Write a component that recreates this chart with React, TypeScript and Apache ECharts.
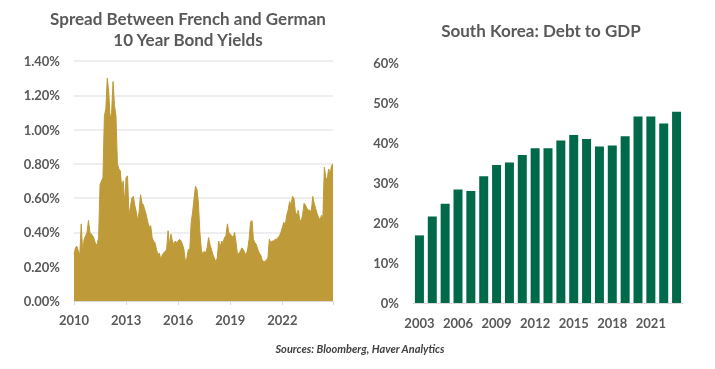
import React, { useEffect, useRef } from "react";
import * as echarts from "echarts";

// Spread between French and German 10Y yields (%), monthly, Jan..Dec
const spread2010 = [0.27, 0.31, 0.32, 0.29, 0.27, 0.45, 0.28, 0.36, 0.38, 0.40, 0.47, 0.40];
const spread2011 = [0.39, 0.38, 0.36, 0.33, 0.33, 0.37, 0.68, 0.70, 0.72, 1.08, 1.12, 1.30];
const spread2012 = [1.22, 1.06, 1.10, 1.28, 1.14, 1.08, 0.80, 0.77, 0.76, 0.66, 0.70, 0.57];
const spread2013 = [0.72, 0.73, 0.50, 0.55, 0.60, 0.61, 0.56, 0.52, 0.47, 0.52, 0.62, 0.57];
const spread2014 = [0.56, 0.53, 0.50, 0.46, 0.43, 0.44, 0.37, 0.35, 0.34, 0.30, 0.27, 0.28];
const spread2015 = [0.24, 0.27, 0.28, 0.29, 0.30, 0.41, 0.33, 0.39, 0.35, 0.33, 0.35, 0.34];
const spread2016 = [0.35, 0.36, 0.35, 0.33, 0.30, 0.23, 0.25, 0.30, 0.30, 0.46, 0.52, 0.60];
const spread2017 = [0.67, 0.65, 0.57, 0.40, 0.30, 0.27, 0.29, 0.28, 0.31, 0.37, 0.33, 0.30];
const spread2018 = [0.27, 0.25, 0.23, 0.25, 0.35, 0.31, 0.35, 0.34, 0.37, 0.38, 0.45, 0.40];
const spread2019 = [0.39, 0.38, 0.37, 0.40, 0.34, 0.27, 0.28, 0.29, 0.31, 0.30, 0.28, 0.27];
const spread2020 = [0.30, 0.36, 0.46, 0.47, 0.36, 0.34, 0.33, 0.30, 0.28, 0.27, 0.24, 0.23];
const spread2021 = [0.23, 0.24, 0.25, 0.36, 0.34, 0.35, 0.35, 0.36, 0.36, 0.37, 0.38, 0.40];
const spread2022 = [0.43, 0.46, 0.44, 0.50, 0.53, 0.58, 0.56, 0.61, 0.60, 0.52, 0.50, 0.53];
const spread2023 = [0.47, 0.47, 0.50, 0.57, 0.56, 0.54, 0.53, 0.53, 0.52, 0.61, 0.57, 0.54];
const spread2024 = [0.51, 0.49, 0.47, 0.50, 0.48, 0.78, 0.72, 0.71, 0.77, 0.74, 0.79, 0.80];
const spreadStartYear = 2010;
const spreadTickLabels = ["2010", "2013", "2016", "2019", "2022"];

// South Korea debt to GDP (%)
const koreaYears = [
  "2003", "2004", "2005", "2006", "2007", "2008", "2009", "2010", "2011", "2012", "2013",
  "2014", "2015", "2016", "2017", "2018", "2019", "2020", "2021", "2022", "2023",
];
const koreaDebt = [
  16.9, 21.6, 24.8, 28.4, 28.0, 31.7, 34.5, 35.1, 37.0, 38.7, 38.7,
  40.6, 42.0, 41.0, 39.1, 39.4, 41.7, 46.6, 46.6, 44.9, 47.8,
];

const FONT = "Lato, 'Open Sans', sans-serif";
const TXT = "#595959";

export default function App() {
  const ref = useRef<HTMLDivElement>(null);
  useEffect(() => {
    if (!ref.current) return;
    const chart = echarts.init(ref.current, null, { renderer: "svg" });
    const spread = [
      ...spread2010, ...spread2011, ...spread2012, ...spread2013, ...spread2014,
      ...spread2015, ...spread2016, ...spread2017, ...spread2018, ...spread2019,
      ...spread2020, ...spread2021, ...spread2022, ...spread2023, ...spread2024,
    ];
    const spreadData = spread.map((v, i) => [i, v]);
    const lbl = { color: TXT, fontSize: 13, fontFamily: FONT, fontWeight: "bold" as const };
    chart.setOption({
      animation: false,
      textStyle: { fontFamily: FONT },
      graphic: [
        {
          type: "text", x: 188, y: 18,
          style: { text: "Spread Between French and German", fill: TXT, font: `bold 17px ${FONT}`, align: "center", verticalAlign: "middle" },
        },
        {
          type: "text", x: 188, y: 39,
          style: { text: "10 Year Bond Yields", fill: TXT, font: `bold 17px ${FONT}`, align: "center", verticalAlign: "middle" },
        },
        {
          type: "text", x: 541, y: 30,
          style: { text: "South Korea: Debt to GDP", fill: TXT, font: `bold 17px ${FONT}`, align: "center", verticalAlign: "middle" },
        },
        {
          type: "text", x: 360, y: 348,
          style: { text: "Sources: Bloomberg, Haver Analytics", fill: "#404040", font: `italic bold 11px ${FONT}`, align: "center", verticalAlign: "middle" },
        },
      ],
      grid: [
        { left: 74, right: 382, top: 61, bottom: 68 },
        { left: 413, right: 32, top: 63, bottom: 66 },
      ],
      xAxis: [
        {
          type: "value", gridIndex: 0, min: 0, max: spread.length - 1, interval: 36,
          axisLine: { show: true, lineStyle: { color: "#D9D9D9", width: 1 } },
          axisTick: { show: true, length: 4, lineStyle: { color: "#D9D9D9" } },
          splitLine: { show: false },
          axisLabel: {
            ...lbl, margin: 12,
            formatter: (v: number) => (v % 36 === 0 ? spreadTickLabels[v / 36] ?? String(spreadStartYear + v / 12) : ""),
          },
        },
        {
          type: "category", gridIndex: 1, data: koreaYears,
          axisLine: { show: true, lineStyle: { color: "#D9D9D9", width: 1 } },
          axisTick: { show: false },
          axisLabel: { ...lbl, interval: 2, margin: 13 },
        },
      ],
      yAxis: [
        {
          type: "value", gridIndex: 0, min: 0, max: 1.4, interval: 0.2,
          axisLine: { show: false }, axisTick: { show: false },
          splitLine: { show: true, lineStyle: { color: "#E8E8E8", width: 1.5 } },
          axisLabel: { ...lbl, margin: 14, formatter: (v: number) => v.toFixed(2) + "%" },
        },
        {
          type: "value", gridIndex: 1, min: 0, max: 60, interval: 10,
          axisLine: { show: false }, axisTick: { show: false },
          splitLine: { show: false },
          axisLabel: { ...lbl, margin: 14, formatter: "{value}%" },
        },
      ],
      series: [
        {
          type: "line", xAxisIndex: 0, yAxisIndex: 0, data: spreadData,
          showSymbol: false, symbol: "none",
          lineStyle: { color: "#BE9A38", width: 1 },
          areaStyle: { color: "#BE9A38", opacity: 1 },
        },
        {
          type: "bar", xAxisIndex: 1, yAxisIndex: 1, data: koreaDebt, barWidth: 9,
          itemStyle: { color: "#00694A" },
        },
      ],
    });
    return () => chart.dispose();
  }, []);
  return <div ref={ref} style={{ position: "fixed", left: 0, top: 0, width: 715, height: 369 }} />;
}
